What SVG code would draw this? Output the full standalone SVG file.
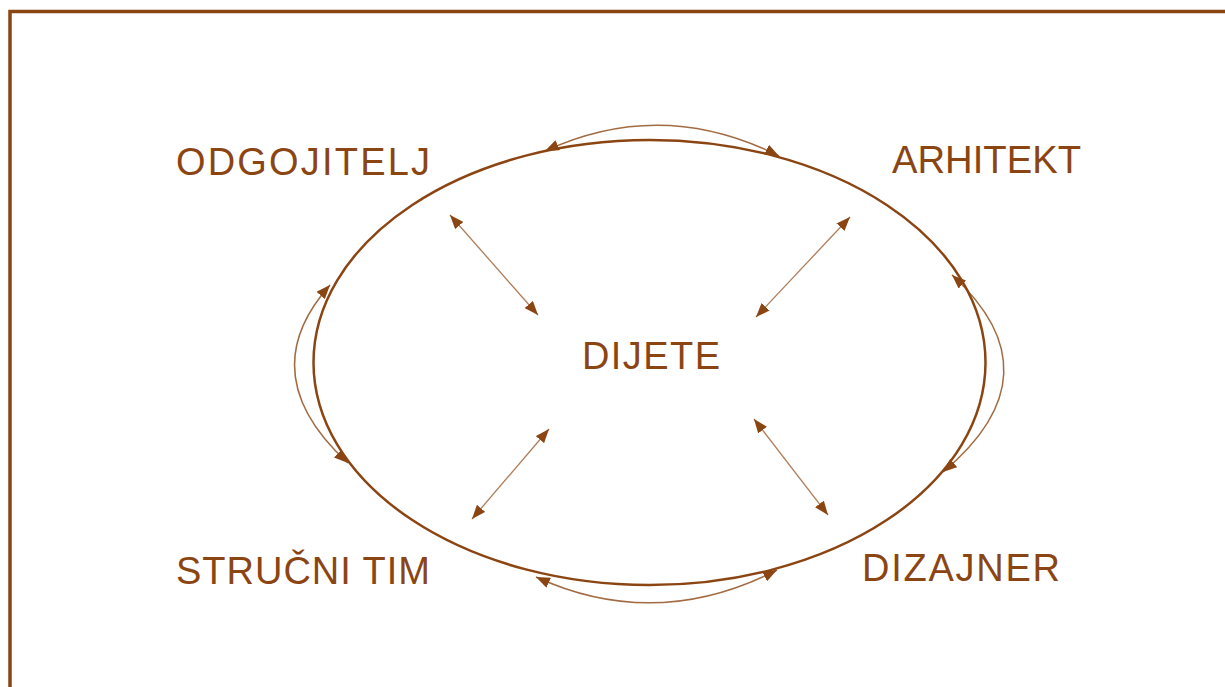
<svg xmlns="http://www.w3.org/2000/svg" width="1225" height="687" viewBox="0 0 1225 687">
<style>
.lbl{font-family:"Liberation Sans",Arial,sans-serif;font-size:38px;fill:#8B4513;}
.thin{fill:none;stroke:#8B4513;stroke-opacity:0.8;stroke-width:1.5;marker-start:url(#ah);marker-end:url(#ah);}
.diag{fill:none;stroke:#8B4513;stroke-opacity:0.7;stroke-width:1.3;marker-start:url(#ah);marker-end:url(#ah);}
</style>
<defs>
<marker id="ah" viewBox="0 0 14 11" refX="14" refY="5.5" markerWidth="14" markerHeight="11" markerUnits="userSpaceOnUse" orient="auto-start-reverse">
<path d="M0,0 L14,5.5 L0,11 Z" fill="#8B4513"/>
</marker>
</defs>
<rect x="0" y="0" width="1225" height="687" fill="#ffffff"/>
<rect x="10" y="11.5" width="1300" height="800" fill="none" stroke="#8B4513" stroke-width="3.5"/>
<g id="connectors">
<ellipse cx="649.5" cy="362.5" rx="336" ry="222.5" fill="none" stroke="#8B4513" stroke-width="2.5"/>
<path class="thin" d="M545,151 Q662,97 779,156"/>
<path class="thin" d="M952,275 Q1060,374 943,472"/>
<path class="thin" d="M330,285 Q251,374 348,463"/>
<path class="thin" d="M536,577 Q656,632 777,570"/>
<path class="diag" d="M450,215 L538,315"/>
<path class="diag" d="M850,217 L756,317"/>
<path class="diag" d="M549,429 L472,519"/>
<path class="diag" d="M754,419 L828,515"/>
</g>
<g id="node-dijete"><text class="lbl" x="582" y="369" textLength="138" lengthAdjust="spacing">DIJETE</text></g>
<g id="node-odgojitelj"><text class="lbl" x="176" y="175" textLength="254" lengthAdjust="spacing">ODGOJITELJ</text></g>
<g id="node-arhitekt"><text class="lbl" x="892" y="172.5" textLength="189" lengthAdjust="spacingAndGlyphs">ARHITEKT</text></g>
<g id="node-strucni-tim"><text class="lbl" x="176" y="584" textLength="254" lengthAdjust="spacing">STRUČNI TIM</text></g>
<g id="node-dizajner"><text class="lbl" x="862" y="580.5" textLength="198" lengthAdjust="spacing">DIZAJNER</text></g>
</svg>
